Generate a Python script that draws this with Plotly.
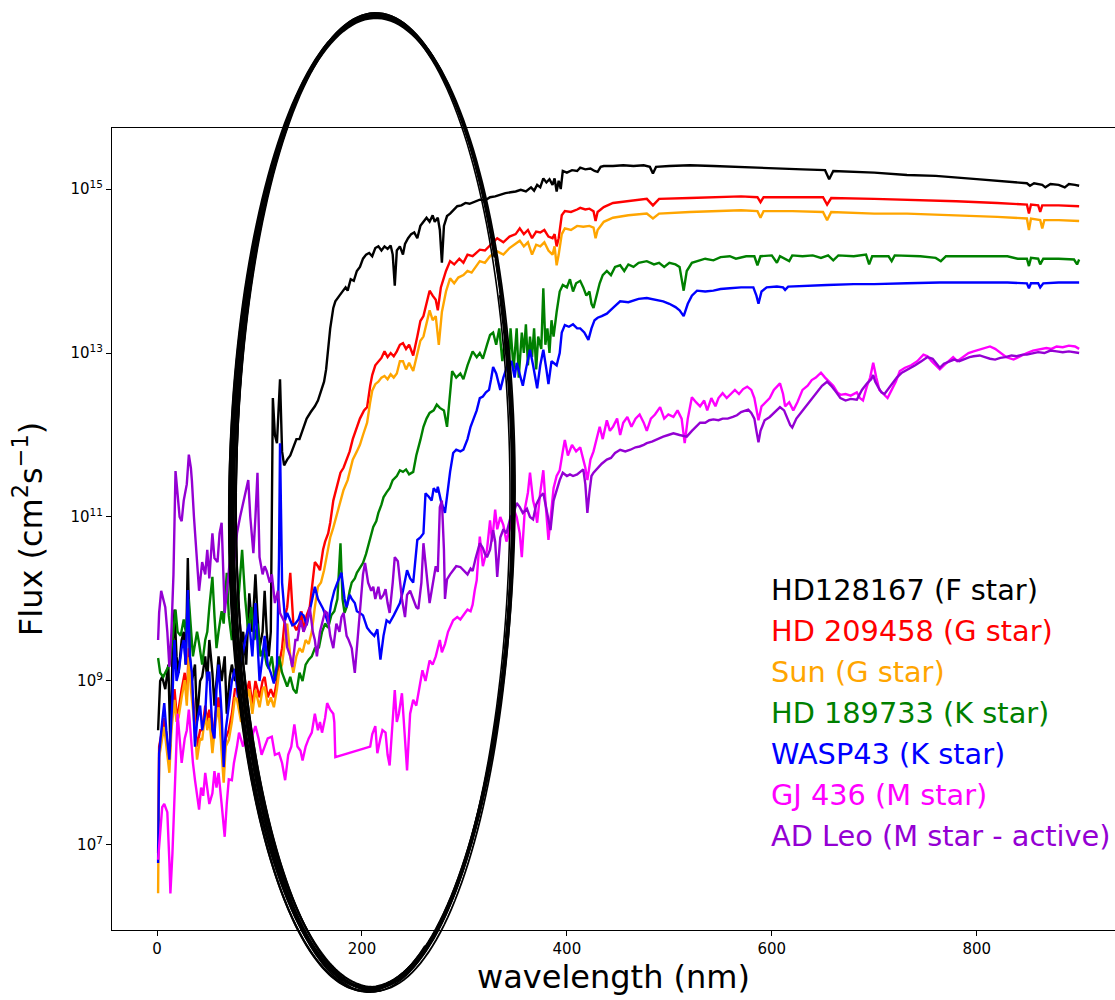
import math
import plotly.graph_objects as go

# ---------------- data: (wavelength nm, log10 flux) ----------------
hd128167 = [(1, 8.4), (3, 9.0), (5, 9.05), (8, 8.9), (11, 9.2), (13, 8.2), (15, 9.3), (17, 9.87), (19, 9.3),
            (21, 9.1), (24, 9.5), (26, 9.6), (28, 9.2), (30, 10.5), (32, 9.3), (34, 9.0), (37, 9.2), (39, 8.52),
            (42, 9.0), (44, 9.05), (47, 9.3), (49, 9.0), (51, 9.5), (54, 9.1), (56, 8.7), (58, 9.0), (60, 9.3),
            (63, 9.0), (66, 9.3), (68, 8.6), (71, 9.05), (73, 9.2), (76, 9.0), (80, 9.3), (84, 9.6), (87, 9.2),
            (90, 10.07), (93, 9.6), (96, 10.3), (98, 9.8), (100, 9.4), (103, 9.6), (105, 10.1), (107, 9.6),
            (109, 9.3), (111, 9.6), (113, 12.45), (115, 12.0), (117, 11.9), (120, 12.68), (122, 11.8), (124, 11.63),
            (127, 11.7), (130, 11.75), (133, 11.85), (136, 11.95), (139, 11.95), (142, 12.05), (146, 12.2),
            (150, 12.28), (154, 12.35), (157, 12.42), (160, 12.55), (163, 12.65), (165, 12.8), (167, 13.1),
            (169, 13.3), (172, 13.55), (174, 13.63), (178, 13.7), (181, 13.75), (184, 13.8), (186, 13.76),
            (189, 13.9), (192, 13.88), (195, 14.0), (198, 14.05), (201, 14.15), (204, 14.2), (207, 14.22),
            (210, 14.18), (213, 14.28), (216, 14.3), (219, 14.25), (222, 14.3), (225, 14.27), (228, 14.31),
            (230, 14.2), (232, 13.82), (234, 14.25), (237, 14.3), (240, 14.2), (242, 14.33), (245, 14.4),
            (248, 14.45), (251, 14.47), (254, 14.4), (257, 14.55), (260, 14.6), (263, 14.65), (266, 14.6),
            (269, 14.68), (271, 14.6), (274, 14.65), (276, 14.5), (278, 14.1), (280, 14.55), (283, 14.67),
            (286, 14.7), (290, 14.75), (293, 14.79), (297, 14.8), (301, 14.83), (305, 14.82), (310, 14.85),
            (315, 14.87), (320, 14.86), (325, 14.9), (330, 14.91), (335, 14.93), (340, 14.95), (345, 14.96),
            (350, 14.97), (355, 14.99), (360, 14.97), (365, 15.02), (368, 14.98), (371, 15.05), (374, 15.02),
            (377, 15.13), (380, 15.08), (383, 15.12), (386, 15.05), (388, 15.13), (390, 14.97), (392, 15.1),
            (394, 15.0), (396, 15.22), (400, 15.2), (405, 15.23), (410, 15.22), (413, 15.26), (418, 15.24),
            (423, 15.25), (427, 15.22), (430, 15.21), (433, 15.27), (436, 15.28), (445, 15.28), (455, 15.29),
            (465, 15.28), (475, 15.29), (481, 15.27), (484, 15.19), (487, 15.27), (500, 15.28), (520, 15.29),
            (543, 15.28), (570, 15.27), (600, 15.26), (630, 15.24), (652, 15.23), (656, 15.12), (660, 15.22),
            (700, 15.2), (732, 15.17), (760, 15.16), (800, 15.12), (830, 15.09), (849, 15.07), (852, 15.04),
            (856, 15.07), (864, 15.05), (867, 15.02), (872, 15.06), (880, 15.05), (886, 15.02), (890, 15.06),
            (896, 15.05), (900, 15.04)]

hd209458 = [(1, 6.9), (2, 8.2), (5, 8.4), (7, 8.55), (10, 8.25), (12, 8.0), (14, 8.5), (17, 8.9), (19, 8.6),
            (21, 8.65), (24, 8.9), (27, 9.1), (29, 8.8), (31, 9.4), (33, 9.0), (35, 8.8), (37, 8.5), (39, 8.2),
            (42, 8.4), (44, 8.4), (47, 8.7), (49, 8.5), (51, 8.65), (54, 8.25), (57, 8.6), (60, 8.8), (62, 8.4),
            (65, 7.9), (67, 8.3), (70, 8.4), (73, 8.6), (76, 8.9), (78, 8.9), (82, 8.6), (86, 8.8), (90, 9.0),
            (93, 8.7), (96, 9.0), (100, 8.8), (103, 9.0), (105, 9.05), (108, 8.8), (111, 8.9), (114, 8.8),
            (117, 9.0), (119, 9.2), (122, 9.4), (125, 9.8), (127, 9.9), (130, 10.32), (133, 9.7), (136, 9.62),
            (139, 9.7), (141, 9.85), (143, 9.6), (146, 9.8), (149, 9.9), (152, 10.2), (154, 10.45), (157, 10.4),
            (159, 10.35), (162, 10.6), (164, 10.7), (167, 10.8), (169, 10.93), (172, 11.2), (175, 11.35),
            (179, 11.54), (182, 11.6), (185, 11.7), (188, 11.8), (191, 11.95), (194, 12.05), (198, 12.2),
            (202, 12.3), (205, 12.34), (208, 12.6), (210, 12.73), (213, 12.85), (216, 12.9), (219, 12.94),
            (222, 13.02), (225, 12.95), (228, 13.0), (231, 12.96), (234, 13.02), (237, 13.1), (240, 13.12),
            (243, 13.05), (246, 13.1), (250, 12.97), (254, 13.2), (257, 13.39), (260, 13.45), (263, 13.6),
            (266, 13.76), (269, 13.7), (272, 13.65), (274, 13.52), (277, 13.8), (282, 14.0), (286, 14.12),
            (290, 14.08), (295, 14.15), (299, 14.1), (303, 14.2), (308, 14.18), (312, 14.22), (315, 14.26),
            (320, 14.25), (326, 14.32), (332, 14.4), (338, 14.35), (344, 14.42), (350, 14.45), (354, 14.52),
            (358, 14.45), (362, 14.5), (366, 14.4), (370, 14.48), (374, 14.47), (378, 14.5), (382, 14.42),
            (386, 14.4), (388, 14.45), (390, 14.3), (392, 14.4), (395, 14.68), (398, 14.73), (404, 14.72),
            (410, 14.75), (413, 14.77), (418, 14.75), (422, 14.76), (426, 14.73), (428, 14.61), (430, 14.72),
            (436, 14.78), (445, 14.83), (460, 14.85), (478, 14.88), (484, 14.8), (490, 14.88), (520, 14.89),
            (543, 14.9), (570, 14.91), (586, 14.9), (589, 14.84), (592, 14.9), (620, 14.9), (650, 14.9),
            (654, 14.81), (658, 14.89), (700, 14.88), (732, 14.87), (780, 14.85), (820, 14.83), (849, 14.81),
            (851, 14.7), (853, 14.81), (860, 14.8), (862, 14.72), (864, 14.8), (880, 14.8), (900, 14.79)]

sun = [(1, 6.41), (2, 8.07), (5, 8.3), (7, 8.44), (10, 8.1), (12, 7.88), (14, 8.4), (17, 8.77), (19, 8.5),
       (21, 8.56), (24, 8.8), (27, 9.01), (29, 8.7), (31, 9.29), (33, 8.9), (35, 8.68), (37, 8.4), (39, 8.04),
       (42, 8.3), (44, 8.28), (47, 8.6), (49, 8.4), (51, 8.55), (54, 8.12), (57, 8.5), (60, 8.68), (62, 8.3),
       (65, 7.76), (67, 8.2), (70, 8.28), (73, 8.5), (76, 8.8), (78, 8.77), (82, 8.5), (86, 8.7), (90, 8.9),
       (93, 8.6), (96, 8.89), (100, 8.68), (103, 8.9), (105, 8.93), (108, 8.7), (111, 8.8), (114, 8.68),
       (117, 8.9), (119, 9.1), (122, 9.2), (125, 9.5), (127, 9.7), (130, 9.3), (133, 9.1), (136, 9.3),
       (139, 9.4), (142, 9.35), (145, 9.5), (148, 9.45), (151, 9.6), (154, 9.9), (157, 10.15), (160, 10.2),
       (163, 10.35), (166, 10.55), (169, 10.75), (172, 10.87), (175, 11.0), (178, 11.15), (182, 11.33),
       (186, 11.45), (189, 11.6), (191, 11.7), (195, 11.8), (198, 11.88), (201, 12.0), (203, 12.09),
       (205, 12.15), (208, 12.4), (210, 12.54), (213, 12.62), (216, 12.65), (219, 12.7), (222, 12.72),
       (225, 12.68), (228, 12.74), (231, 12.7), (234, 12.75), (237, 12.9), (240, 12.9), (243, 12.8),
       (246, 12.88), (250, 12.78), (254, 13.0), (257, 13.15), (260, 13.2), (263, 13.35), (266, 13.52),
       (269, 13.4), (272, 13.45), (275, 13.1), (278, 13.5), (282, 13.75), (286, 13.91), (290, 13.85),
       (294, 13.92), (299, 13.95), (303, 14.0), (307, 13.98), (311, 14.05), (315, 14.12), (320, 14.1),
       (325, 14.18), (332, 14.24), (338, 14.2), (344, 14.28), (350, 14.33), (354, 14.37), (358, 14.3),
       (362, 14.35), (366, 14.2), (370, 14.32), (374, 14.3), (378, 14.35), (382, 14.25), (386, 14.2),
       (388, 14.3), (390, 14.07), (392, 14.2), (395, 14.45), (398, 14.52), (404, 14.5), (410, 14.55),
       (416, 14.54), (422, 14.55), (426, 14.53), (428, 14.4), (430, 14.5), (436, 14.6), (445, 14.65),
       (460, 14.68), (478, 14.7), (484, 14.64), (490, 14.7), (520, 14.72), (543, 14.73), (570, 14.74),
       (586, 14.73), (589, 14.65), (592, 14.73), (620, 14.73), (650, 14.72), (654, 14.62), (658, 14.72),
       (700, 14.7), (732, 14.7), (780, 14.68), (820, 14.66), (849, 14.64), (851, 14.5), (853, 14.64),
       (862, 14.62), (864, 14.52), (866, 14.62), (880, 14.62), (900, 14.61)]

hd189733 = [(1, 9.28), (3, 9.1), (6, 9.05), (9, 9.12), (12, 9.2), (15, 9.5), (18, 9.87), (20, 9.6), (23, 9.55),
            (26, 9.75), (28, 9.6), (31, 10.0), (33, 9.7), (35, 9.3), (37, 9.45), (39, 9.6), (41, 9.46), (44, 9.2),
            (47, 9.5), (49, 9.6), (51, 9.9), (54, 10.27), (56, 9.8), (58, 9.4), (60, 9.6), (63, 9.85), (65, 9.7),
            (68, 10.32), (70, 9.8), (73, 9.5), (76, 9.7), (80, 10.1), (83, 10.6), (86, 10.0), (89, 9.6), (92, 9.9),
            (95, 9.5), (98, 9.7), (101, 9.3), (104, 9.4), (107, 9.2), (109, 9.15), (112, 9.3), (115, 9.0),
            (119, 9.3), (122, 9.1), (125, 9.0), (127, 8.93), (130, 9.05), (133, 8.9), (136, 8.85), (139, 9.1),
            (142, 9.0), (145, 9.2), (148, 9.26), (151, 9.3), (154, 9.4), (158, 9.41), (161, 9.6), (164, 9.7),
            (167, 9.65), (170, 9.8), (173, 9.85), (176, 10.0), (179, 10.68), (181, 10.0), (183, 9.83), (185, 9.9),
            (188, 10.1), (190, 10.2), (193, 10.25), (195, 10.32), (198, 10.38), (201, 10.44), (204, 10.55),
            (207, 10.7), (211, 10.88), (214, 10.95), (216, 11.05), (219, 11.15), (221, 11.24), (224, 11.3),
            (227, 11.35), (230, 11.45), (234, 11.5), (237, 11.57), (240, 11.55), (243, 11.58), (246, 11.52),
            (250, 11.55), (253, 11.75), (257, 11.94), (260, 12.1), (263, 12.2), (266, 12.27), (270, 12.3),
            (273, 12.37), (276, 12.33), (280, 12.3), (283, 12.1), (286, 12.55), (288, 12.78), (292, 12.7),
            (296, 12.75), (299, 12.68), (303, 12.85), (308, 13.02), (312, 12.95), (315, 13.0), (318, 12.93),
            (322, 13.1), (325, 13.22), (328, 13.25), (331, 13.1), (334, 13.3), (337, 12.9), (340, 13.2),
            (343, 12.75), (345, 13.3), (348, 12.8), (351, 13.3), (353, 12.7), (356, 13.25), (358, 13.0),
            (360, 13.35), (362, 12.85), (364, 13.2), (366, 12.95), (368, 13.3), (370, 12.8), (372, 13.2),
            (375, 13.05), (377, 13.79), (379, 13.1), (381, 13.3), (383, 13.0), (385, 13.4), (387, 13.2),
            (390, 13.5), (393, 13.75), (396, 13.83), (400, 13.8), (403, 13.9), (406, 13.75), (409, 13.85),
            (413, 13.88), (416, 13.8), (419, 13.7), (422, 13.75), (424, 13.6), (426, 13.55), (429, 13.7),
            (432, 13.85), (435, 13.95), (439, 14.0), (443, 13.95), (447, 14.05), (452, 14.07), (456, 14.0),
            (460, 14.08), (465, 14.05), (470, 14.1), (478, 14.12), (485, 14.08), (490, 14.1), (495, 14.05),
            (500, 14.1), (506, 14.08), (510, 14.05), (514, 13.76), (517, 14.0), (522, 14.1), (527, 14.12),
            (535, 14.15), (543, 14.13), (550, 14.17), (559, 14.18), (565, 14.15), (575, 14.18), (583, 14.18),
            (586, 14.07), (589, 14.18), (600, 14.19), (605, 14.1), (608, 14.18), (617, 14.12), (620, 14.19),
            (630, 14.18), (640, 14.19), (648, 14.16), (655, 14.19), (660, 14.13), (665, 14.19), (680, 14.18),
            (692, 14.2), (695, 14.08), (698, 14.18), (714, 14.18), (717, 14.12), (720, 14.19), (745, 14.18),
            (760, 14.16), (765, 14.12), (770, 14.18), (800, 14.18), (830, 14.18), (840, 14.15), (849, 14.15),
            (851, 14.06), (853, 14.16), (860, 14.15), (862, 14.08), (865, 14.15), (880, 14.15), (895, 14.14),
            (898, 14.08), (900, 14.14)]

wasp43 = [(1, 6.78), (2, 8.12), (5, 8.5), (7, 8.73), (9, 8.4), (12, 8.04), (15, 8.8), (17, 9.5), (19, 9.0),
          (21, 9.1), (24, 9.4), (26, 9.5), (28, 9.2), (30, 10.11), (32, 9.3), (34, 9.1), (37, 8.2), (39, 8.5),
          (42, 8.7), (44, 8.4), (47, 8.6), (49, 9.1), (51, 9.1), (54, 8.4), (56, 8.3), (58, 8.9), (60, 9.2),
          (63, 8.6), (65, 7.95), (67, 8.4), (70, 8.7), (73, 9.0), (76, 9.15), (79, 8.8), (82, 9.2), (86, 9.5),
          (90, 9.7), (93, 9.3), (96, 9.95), (98, 9.4), (100, 9.0), (103, 9.3), (105, 9.55), (108, 9.2),
          (111, 9.1), (114, 8.97), (117, 9.2), (119, 10.5), (120, 11.9), (122, 10.2), (125, 9.74), (127, 9.83),
          (130, 9.75), (132, 9.68), (135, 9.7), (138, 9.75), (140, 9.83), (143, 9.8), (146, 9.68), (149, 9.85),
          (151, 9.95), (154, 10.15), (157, 10.0), (159, 9.95), (162, 9.88), (165, 9.78), (167, 9.7), (170, 9.95),
          (173, 10.1), (176, 10.2), (180, 10.32), (183, 10.0), (185, 9.9), (188, 10.05), (190, 10.0),
          (193, 9.95), (195, 9.85), (198, 9.83), (201, 9.8), (205, 9.65), (208, 9.6), (212, 9.55), (215, 9.63),
          (218, 9.26), (221, 9.55), (224, 9.74), (227, 9.71), (231, 9.8), (234, 9.88), (237, 9.95), (240, 10.1),
          (244, 10.35), (247, 10.25), (250, 10.2), (254, 10.72), (257, 10.75), (260, 10.8), (262, 11.29),
          (265, 11.25), (268, 11.2), (270, 11.35), (273, 11.3), (274, 11.37), (277, 11.2), (281, 11.05),
          (284, 11.4), (286, 11.55), (289, 11.78), (292, 11.82), (296, 11.8), (299, 11.82), (303, 11.95),
          (306, 12.1), (309, 12.2), (312, 12.3), (315, 12.45), (318, 12.47), (321, 12.52), (324, 12.55),
          (326, 12.68), (328, 12.83), (331, 12.75), (335, 12.55), (338, 12.7), (342, 12.85), (346, 12.9),
          (349, 12.7), (351, 12.88), (354, 12.75), (357, 12.6), (360, 12.8), (364, 13.04), (367, 12.85),
          (369, 12.7), (371, 12.57), (374, 12.85), (377, 13.04), (380, 12.8), (382, 12.62), (385, 12.9),
          (387, 12.88), (390, 12.85), (393, 13.0), (395, 13.25), (398, 13.34), (402, 13.32), (406, 13.35),
          (410, 13.3), (413, 13.3), (417, 13.25), (421, 13.16), (424, 13.3), (427, 13.4), (430, 13.43),
          (434, 13.45), (439, 13.48), (445, 13.55), (452, 13.63), (460, 13.62), (470, 13.66), (478, 13.67),
          (486, 13.65), (494, 13.63), (500, 13.6), (506, 13.56), (510, 13.52), (514, 13.45), (518, 13.6),
          (522, 13.7), (527, 13.76), (535, 13.75), (543, 13.76), (550, 13.78), (559, 13.79), (570, 13.8),
          (582, 13.8), (585, 13.7), (587, 13.6), (590, 13.75), (595, 13.8), (605, 13.81), (611, 13.8),
          (613, 13.77), (616, 13.81), (630, 13.82), (654, 13.83), (680, 13.84), (700, 13.84), (732, 13.85),
          (764, 13.86), (800, 13.86), (830, 13.86), (849, 13.85), (851, 13.79), (853, 13.85), (860, 13.85),
          (862, 13.8), (865, 13.85), (880, 13.86), (900, 13.86)]

gj436 = [(1, 6.82), (3, 7.2), (5, 7.46), (7, 7.5), (10, 7.4), (12, 6.8), (13, 6.41), (15, 6.9), (17, 7.59),
         (19, 8.2), (20, 8.6), (22, 8.3), (24, 8.0), (27, 8.3), (29, 8.4), (31, 8.65), (33, 8.3), (35, 8.0),
         (37, 7.79), (39, 7.6), (41, 7.43), (43, 7.7), (45, 7.6), (47, 7.88), (49, 7.7), (51, 7.5), (54, 7.63),
         (56, 7.9), (58, 7.7), (60, 7.88), (63, 7.5), (66, 7.1), (68, 7.5), (70, 7.8), (73, 7.79), (75, 8.0),
         (78, 8.2), (80, 8.37), (84, 8.2), (88, 8.4), (92, 8.3), (96, 8.45), (99, 8.3), (102, 8.1), (105, 8.2),
         (108, 8.3), (112, 8.32), (115, 8.1), (119, 8.12), (122, 8.0), (125, 7.79), (128, 8.1), (131, 8.2),
         (134, 8.47), (137, 8.2), (140, 8.15), (142, 8.03), (145, 8.2), (148, 8.3), (151, 8.37), (154, 8.6),
         (157, 8.4), (159, 8.5), (161, 8.37), (164, 8.55), (166, 8.73), (169, 8.65), (172, 8.6), (173, 8.5),
         (174, 8.07), (208, 8.2), (210, 8.35), (213, 8.45), (215, 8.12), (218, 8.3), (220, 8.4), (223, 8.37),
         (225, 8.1), (227, 7.97), (229, 8.3), (232, 8.89), (234, 8.5), (236, 8.6), (239, 8.85), (241, 8.5),
         (244, 7.91), (247, 8.6), (250, 8.77), (253, 8.7), (256, 8.9), (259, 9.13), (262, 9.0), (266, 9.25),
         (269, 9.2), (272, 9.3), (275, 9.45), (276, 9.5), (278, 9.35), (281, 9.45), (284, 9.6), (286, 9.66),
         (289, 9.74), (293, 9.78), (296, 9.75), (300, 9.82), (303, 9.87), (306, 9.85), (308, 9.93), (310, 10.1),
         (312, 10.23), (315, 10.76), (318, 10.4), (320, 10.5), (322, 10.6), (325, 10.96), (327, 10.7),
         (330, 11.09), (332, 10.85), (335, 11.0), (338, 10.9), (341, 10.7), (345, 10.9), (348, 11.1),
         (351, 11.0), (354, 10.8), (356, 10.51), (359, 11.1), (362, 11.3), (364, 11.54), (367, 11.2),
         (369, 11.1), (371, 10.93), (374, 11.3), (377, 11.57), (379, 11.2), (382, 10.72), (385, 11.1),
         (387, 11.35), (390, 11.5), (393, 11.57), (396, 11.8), (398, 11.94), (401, 11.75), (405, 11.88),
         (409, 11.8), (413, 11.85), (416, 11.7), (418, 11.6), (420, 11.45), (423, 11.7), (426, 11.8),
         (429, 11.95), (432, 12.1), (435, 11.95), (439, 12.18), (442, 12.05), (445, 12.1), (449, 12.2),
         (452, 12.0), (455, 12.15), (459, 12.22), (463, 12.1), (467, 12.2), (471, 12.25), (475, 12.15),
         (478, 12.05), (482, 12.2), (486, 12.25), (491, 12.34), (495, 12.2), (499, 12.25), (504, 12.22),
         (508, 12.3), (512, 12.2), (515, 11.9), (518, 12.2), (522, 12.46), (526, 12.4), (530, 12.35),
         (534, 12.42), (537, 12.3), (541, 12.45), (545, 12.35), (548, 12.45), (552, 12.51), (556, 12.45),
         (560, 12.5), (564, 12.55), (568, 12.5), (572, 12.56), (576, 12.59), (580, 12.55), (583, 12.45),
         (587, 12.18), (590, 12.35), (594, 12.4), (598, 12.45), (602, 12.55), (606, 12.6), (608, 12.63),
         (611, 12.5), (613, 12.35), (617, 12.4), (621, 12.3), (625, 12.4), (630, 12.55), (635, 12.6),
         (639, 12.67), (643, 12.7), (648, 12.76), (652, 12.7), (656, 12.65), (660, 12.6), (664, 12.52),
         (667, 12.49), (672, 12.5), (677, 12.48), (683, 12.52), (686, 12.45), (689, 12.42), (693, 12.6),
         (696, 12.7), (699, 12.88), (702, 12.7), (705, 12.55), (709, 12.5), (713, 12.45), (717, 12.55),
         (721, 12.65), (725, 12.78), (730, 12.82), (736, 12.85), (742, 12.9), (748, 12.98), (752, 12.96),
         (756, 12.9), (760, 12.85), (764, 12.8), (768, 12.85), (773, 12.9), (777, 12.95), (781, 12.9),
         (786, 12.95), (792, 13.0), (797, 13.02), (803, 13.04), (808, 13.06), (813, 13.08), (818, 13.05),
         (824, 13.0), (829, 12.95), (836, 12.92), (842, 12.96), (849, 13.0), (855, 13.03), (862, 13.05),
         (868, 13.06), (873, 13.05), (878, 13.08), (884, 13.07), (890, 13.09), (896, 13.08), (900, 13.05)]

adleo = [(1, 9.5), (2, 9.83), (4, 10.1), (6, 10.0), (8, 9.9), (10, 9.6), (12, 9.17), (14, 9.6), (16, 10.3),
         (18, 11.56), (20, 11.3), (22, 11.0), (24, 10.95), (26, 11.2), (29, 11.4), (31, 11.76), (33, 11.6),
         (34, 11.44), (36, 11.0), (37, 10.84), (39, 10.5), (41, 10.1), (44, 10.45), (47, 10.3), (49, 10.6),
         (51, 10.25), (54, 10.8), (56, 10.5), (59, 10.45), (61, 10.8), (63, 10.93), (65, 10.3), (66, 9.83),
         (69, 10.2), (72, 10.6), (75, 10.4), (78, 10.8), (81, 11.0), (84, 11.17), (87, 11.3), (89, 11.45),
         (91, 11.0), (94, 10.56), (96, 11.0), (98, 11.54), (100, 10.51), (103, 10.3), (105, 10.4), (107, 10.34),
         (110, 10.2), (112, 10.3), (115, 9.95), (118, 10.1), (120, 9.83), (123, 9.75), (125, 9.7), (127, 9.41),
         (130, 9.3), (132, 9.17), (135, 9.5), (137, 9.5), (140, 9.74), (143, 9.6), (146, 9.7), (149, 9.9),
         (152, 9.6), (154, 9.5), (156, 9.3), (159, 9.6), (162, 9.75), (164, 9.85), (166, 9.83), (169, 9.55),
         (172, 9.4), (175, 9.7), (178, 9.6), (180, 9.78), (182, 9.83), (185, 9.55), (187, 9.5), (190, 9.4),
         (193, 9.1), (196, 9.6), (199, 10.0), (201, 10.3), (203, 10.44), (206, 10.2), (209, 10.1), (211, 10.15),
         (213, 10.0), (216, 10.15), (218, 10.0), (221, 10.05), (223, 10.12), (225, 9.95), (227, 9.83),
         (230, 10.2), (232, 10.51), (235, 10.46), (237, 10.2), (239, 10.0), (242, 9.78), (244, 10.05),
         (247, 10.1), (250, 10.0), (253, 9.9), (255, 9.88), (258, 10.2), (260, 10.68), (263, 10.3), (266, 9.95),
         (268, 10.1), (270, 10.24), (272, 10.4), (274, 10.33), (276, 11.12), (278, 11.2), (280, 10.6),
         (281, 10.0), (283, 10.24), (286, 10.3), (289, 10.35), (292, 10.4), (296, 10.39), (299, 10.35),
         (303, 10.3), (306, 10.37), (308, 10.34), (311, 10.5), (315, 10.68), (318, 10.62), (320, 10.55),
         (322, 10.51), (325, 10.6), (328, 10.84), (330, 10.7), (332, 10.27), (335, 10.75), (338, 10.85),
         (341, 10.8), (345, 11.0), (348, 11.05), (351, 11.17), (354, 11.12), (357, 11.05), (361, 11.1),
         (364, 11.0), (367, 10.97), (370, 11.15), (374, 11.25), (377, 11.29), (380, 11.1), (382, 10.95),
         (384, 10.84), (387, 11.2), (390, 11.33), (393, 11.45), (396, 11.54), (400, 11.5), (403, 11.52),
         (406, 11.5), (410, 11.52), (413, 11.55), (416, 11.58), (418, 11.4), (420, 11.05), (422, 11.3),
         (424, 11.5), (426, 11.54), (430, 11.6), (434, 11.65), (439, 11.7), (443, 11.72), (447, 11.78),
         (452, 11.82), (457, 11.8), (462, 11.82), (467, 11.85), (471, 11.86), (475, 11.88), (478, 11.9),
         (483, 11.92), (488, 11.95), (494, 11.98), (499, 12.0), (504, 12.02), (510, 12.0), (517, 11.98),
         (522, 12.05), (526, 12.1), (530, 12.15), (535, 12.15), (539, 12.18), (543, 12.19), (548, 12.18),
         (552, 12.2), (557, 12.2), (562, 12.22), (566, 12.24), (570, 12.28), (574, 12.3), (577, 12.31),
         (580, 12.27), (583, 12.2), (585, 12.05), (587, 11.91), (589, 12.05), (593, 12.18), (598, 12.22),
         (603, 12.28), (608, 12.34), (612, 12.3), (615, 12.2), (618, 12.12), (620, 12.09), (624, 12.2),
         (629, 12.28), (634, 12.36), (639, 12.45), (644, 12.52), (649, 12.6), (654, 12.65), (658, 12.6),
         (663, 12.52), (667, 12.45), (672, 12.42), (677, 12.44), (683, 12.43), (688, 12.55), (693, 12.63),
         (697, 12.68), (699, 12.73), (701, 12.65), (704, 12.58), (707, 12.52), (710, 12.5), (714, 12.57),
         (718, 12.64), (722, 12.7), (727, 12.76), (733, 12.8), (740, 12.85), (746, 12.9), (752, 12.95),
         (757, 12.93), (761, 12.87), (764, 12.82), (768, 12.87), (773, 12.9), (778, 12.92), (783, 12.9),
         (788, 12.93), (793, 12.95), (797, 12.96), (803, 12.97), (808, 12.95), (813, 12.93), (818, 12.92),
         (823, 12.94), (828, 12.95), (834, 12.97), (839, 12.96), (845, 12.98), (849, 12.98), (855, 13.0),
         (860, 13.01), (866, 13.0), (872, 13.03), (878, 13.02), (884, 13.01), (890, 13.02), (896, 13.01),
         (900, 13.0)]

series_names = ["HD128167 (F star)", "HD 209458 (G star)", "Sun (G star)", "HD 189733 (K star)",
                "WASP43 (K star)", "GJ 436 (M star)", "AD Leo (M star - active)"]
series_data = [hd128167, hd209458, sun, hd189733, wasp43, gj436, adleo]
series_colors = ["#000000", "#FF0000", "#FFA500", "#008000", "#0000FF", "#FF00FF", "#9400D3"]

y_tick_exponents = [7, 9, 11, 13, 15]
x_tick_values = [0, 200, 400, 600, 800]

# ---------------- layout geometry ----------------
W, H = 1115, 1000
ML, MR, MT, MB = 112, 0, 128, 70
PW, PH = W - ML - MR, H - MT - MB

fig = go.Figure()
for name, data, color in zip(series_names, series_data, series_colors):
    fig.add_trace(go.Scatter(
        x=[p[0] for p in data], y=[10 ** p[1] for p in data],
        mode="lines", name=name, line=dict(color=color, width=2.4),
        showlegend=False, hoverinfo="skip"))

# legend drawn as coloured text
leg_x_px, leg_y0_px, leg_dy_px = 769, 590, 41
annotations = []
for i, (name, color) in enumerate(zip(series_names, series_colors)):
    annotations.append(dict(
        text=name, x=(leg_x_px - ML) / PW, y=(H - MB - (leg_y0_px + i * leg_dy_px)) / PH,
        xref="paper", yref="paper", xanchor="left", yanchor="middle", showarrow=False,
        font=dict(family="DejaVu Sans", size=28.8, color=color)))


# hand-drawn ellipse, made of several slightly different strokes (pixel geometry)
def px_to_paper(px, py):
    return (px - ML) / PW, (H - MB - py) / PH


CX, CY, A, B = 373, 502, 140, 487
strokes = [
    # dx, dy, da, db, rot(deg), width, t0, t1 (deg), dash
    (0, 0, 0, 0, 0.35, 2.6, 330, 680, "solid"),
    (-1, 1, 1, -2, 0.5, 2.2, 320, 675, "solid"),
    (1, -1, -2, 1, 0.2, 2.0, 335, 690, "solid"),
    (-2, 2, 2, 0, 0.6, 2.0, 300, 660, "solid"),
    (2, 0, -1, 2, 0.1, 1.8, 340, 695, "solid"),
    (-1, -1, 3, -1, 0.45, 1.8, 310, 670, "solid"),
    (0, 2, -3, 1, 0.3, 1.6, 325, 685, "solid"),
    (-2, 0, 1, 2, 0.7, 2.2, 65, 250, "solid"),
    (1, -1, 1, -1, 0.1, 2.2, 75, 240, "solid"),
    (0, 1, -1, 2, 0.5, 2.0, 85, 230, "solid"),
    (-1, -1, 0, 1, 0.25, 2.0, 45, 200, "solid"),
    (1, 0, 0, 0, 0.4, 1.8, 20, 130, "solid"),
    (3, 0, -2, -1, 0.3, 1.0, 280, 350, "dash"),
    (-1, 1, 2, 2, 0.2, 1.0, 285, 345, "dot"),
]
shapes = []
for dx, dy, da, db, rot, w, t0, t1, dash in strokes:
    cx, cy, a, b = CX + dx, CY + dy, A + da, B + db
    th = math.radians(rot)
    pts = []
    n = 200
    for k in range(n + 1):
        t = math.radians(t0 + (t1 - t0) * k / n)
        ex, ey = a * math.cos(t), b * math.sin(t)
        px = cx + ex * math.cos(th) - ey * math.sin(th)
        py = cy + ex * math.sin(th) + ey * math.cos(th)
        pts.append(px_to_paper(px, py))
    path = "M " + " L ".join(f"{x:.5f},{y:.5f}" for x, y in pts)
    shapes.append(dict(type="path", path=path, xref="paper", yref="paper",
                       line=dict(color="black", width=w, dash=dash), layer="above"))

fig.update_layout(
    width=W, height=H, autosize=False,
    margin=dict(l=ML, r=MR, t=MT, b=MB, pad=0),
    paper_bgcolor="white", plot_bgcolor="white",
    font=dict(family="DejaVu Sans", color="black"),
    showlegend=False,
    annotations=annotations,
    shapes=shapes,
    xaxis=dict(
        range=[-44, 935], showgrid=False, zeroline=False,
        showline=True, linecolor="black", linewidth=1.2, mirror=True,
        ticks="outside", ticklen=5, tickwidth=1, tickcolor="black",
        tickvals=x_tick_values, ticktext=[str(v) for v in x_tick_values],
        tickfont=dict(family="DejaVu Sans", size=15),
        title=dict(text="wavelength (nm)", font=dict(family="DejaVu Sans", size=32), standoff=6),
    ),
    yaxis=dict(
        type="log", range=[5.963, 15.744], showgrid=False, zeroline=False,
        showline=True, linecolor="black", linewidth=1.2, mirror=False,
        ticks="outside", ticklen=5, tickwidth=1, tickcolor="black",
        tickvals=[10 ** e for e in y_tick_exponents],
        ticktext=[f"10<sup>{e}</sup>" for e in y_tick_exponents],
        tickfont=dict(family="DejaVu Sans", size=15),
        title=dict(text="Flux (cm<sup>2</sup>s<sup>\u22121</sup>)",
                   font=dict(family="DejaVu Sans", size=32), standoff=18),
    ),
)

fig.write_html("out.html")
